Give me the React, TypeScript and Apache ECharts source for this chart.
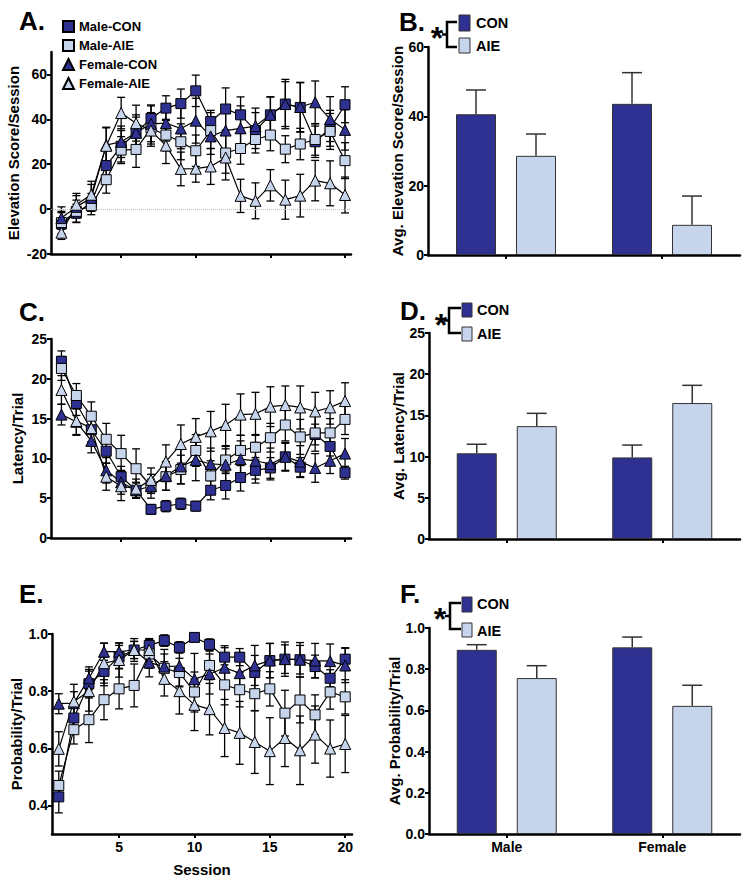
import React, { useEffect, useRef } from "react";
import * as echarts from "echarts";

const FONT = '"Liberation Sans", Arial, Helvetica, sans-serif';
const DARK = "#2e3192";
const LIGHT = "#c6d4ec";

const sessions = [1, 2, 3, 4, 5, 6, 7, 8, 9, 10, 11, 12, 13, 14, 15, 16, 17, 18, 19, 20];
const seriesNames = ["Male-CON", "Male-AIE", "Female-CON", "Female-AIE"];
const groups = ["Male", "Female"];

// Panel A: Elevation score / session
const elevMaleCon = [-6.6, -1.8, 3, 19.4, 28, 34, 40.4, 45, 47, 52.7, 39, 44.6, 42, 35, 42, 46.8, 45.3, 30, 36, 46.5];
const elevMaleConErr = [5, 4, 4, 8, 7, 7, 6, 5.5, 6.5, 7, 5, 9.4, 8, 8, 8, 11, 11, 7, 8, 8];
const elevMaleAie = [-6, -1, 1.5, 13.1, 26.3, 26.6, 36, 33, 30, 26, 35, 25, 27, 31, 33, 26.7, 29, 31, 34.6, 21.6];
const elevMaleAieErr = [5, 5, 4, 6, 6, 8, 7, 7, 8, 7, 8, 9, 7, 6, 7, 6, 7, 7, 8, 8];
const elevFemCon = [-4, 1, 5, 28.5, 30, 34, 38, 38.3, 35.9, 39.4, 32.4, 35, 36, 37, 42, 46.8, 45.5, 47.6, 40.1, 35.3];
const elevFemConErr = [5, 5, 6, 8, 7, 8, 8, 8, 9, 10, 8, 9, 10, 8, 8, 10, 11, 9.5, 10, 9];
const elevFemAie = [-10.5, 2, 6.4, 28.2, 42.8, 38.3, 35, 28.3, 17.9, 18, 19, 23, 5.9, 3.7, 10.6, 4.2, 6, 12.7, 11.5, 6.3];
const elevFemAieErr = [3, 5, 6, 8, 7, 8, 7, 8, 7.5, 6, 8, 10, 7.4, 8, 7, 8.7, 9.5, 9, 10, 8];

// Panel C: Latency / trial
const latMaleCon = [22.2, 16.9, 13.6, 10.9, 7.7, 6.0, 3.6, 4.0, 4.3, 4.0, 6.0, 6.6, 7.6, 8.5, 8.8, 10.2, 8.9, 13.0, 11.5, 8.2];
const latMaleConErr = [1.3, 1.5, 1.5, 1.5, 1.3, 1.0, 0.6, 0.7, 0.7, 0.6, 1.2, 1.7, 1.7, 1.6, 1.3, 1.7, 1.2, 1.3, 1.2, 0.8];
const latMaleAie = [21.3, 17.9, 15.3, 12.4, 10.6, 8.7, 6.5, 7.7, 8.6, 11, 7.8, 9.8, 11, 11.4, 12.6, 14.2, 12.7, 13.2, 13.2, 14.9];
const latMaleAieErr = [1.5, 1.5, 1.8, 2.0, 2.3, 2.5, 1.5, 1.7, 1.8, 2.0, 1.9, 1.7, 1.9, 1.6, 1.8, 2.0, 2.2, 2.3, 1.8, 1.9];
const latFemCon = [15.5, 14.6, 12.2, 8.5, 7, 6, 6.5, 7.8, 9.0, 9.8, 9.3, 9.2, 9.9, 9.7, 9.3, 10.2, 9.6, 8.8, 9.7, 10.6];
const latFemConErr = [1.3, 1.6, 1.5, 1.6, 1.5, 0.9, 0.9, 1.8, 2.2, 2.6, 2.0, 2.0, 2.3, 2.3, 2.0, 1.8, 2.0, 1.8, 1.6, 1.9];
const latFemAie = [18.6, 14.7, 13.8, 7.7, 6.5, 6.2, 7.3, 9.6, 11.8, 12.7, 13.4, 14.2, 15.5, 15.6, 16.5, 16.7, 16.4, 15.9, 16.4, 17.2];
const latFemAieErr = [1.8, 1.8, 1.9, 1.7, 1.8, 1.2, 1.5, 2.1, 2.4, 2.3, 2.5, 2.6, 2.6, 2.7, 2.5, 2.4, 2.7, 2.4, 2.1, 2.3];

// Panel E: Probability / trial
const probMaleCon = [0.43, 0.706, 0.826, 0.869, 0.92, 0.944, 0.96, 0.977, 0.953, 0.988, 0.963, 0.919, 0.919, 0.865, 0.907, 0.912, 0.91, 0.886, 0.845, 0.912];
const probMaleConErr = [0.056, 0.04, 0.05, 0.05, 0.04, 0.03, 0.02, 0.02, 0.02, 0.01, 0.02, 0.04, 0.03, 0.06, 0.06, 0.05, 0.05, 0.04, 0.03, 0.04];
const probMaleAie = [0.47, 0.665, 0.7, 0.77, 0.808, 0.82, 0.93, 0.88, 0.865, 0.797, 0.89, 0.822, 0.805, 0.791, 0.808, 0.723, 0.769, 0.717, 0.797, 0.78];
const probMaleAieErr = [0.05, 0.05, 0.08, 0.07, 0.07, 0.075, 0.05, 0.05, 0.05, 0.07, 0.05, 0.07, 0.06, 0.06, 0.06, 0.08, 0.08, 0.07, 0.06, 0.06];
const probFemCon = [0.756, 0.758, 0.845, 0.938, 0.938, 0.944, 0.9, 0.886, 0.888, 0.842, 0.86, 0.882, 0.863, 0.89, 0.907, 0.912, 0.91, 0.907, 0.905, 0.89];
const probFemConErr = [0.035, 0.04, 0.04, 0.03, 0.03, 0.03, 0.05, 0.06, 0.07, 0.09, 0.07, 0.07, 0.07, 0.07, 0.06, 0.06, 0.06, 0.06, 0.06, 0.06];
const probFemAie = [0.598, 0.764, 0.8, 0.898, 0.909, 0.944, 0.944, 0.843, 0.8, 0.752, 0.737, 0.671, 0.654, 0.622, 0.59, 0.636, 0.593, 0.648, 0.599, 0.615];
const probFemAieErr = [0.06, 0.06, 0.07, 0.07, 0.06, 0.04, 0.04, 0.06, 0.08, 0.09, 0.09, 0.1, 0.11, 0.11, 0.117, 0.1, 0.12, 0.1, 0.1, 0.1];

// Bar panels B, D, F (Male, Female)
const elevBarCon = [40.6, 43.6];
const elevBarConErr = [7.0, 9.0];
const elevBarAie = [28.6, 8.7];
const elevBarAieErr = [6.3, 8.3];
const latBarCon = [10.4, 9.9];
const latBarConErr = [1.1, 1.5];
const latBarAie = [13.7, 16.5];
const latBarAieErr = [1.55, 2.15];
const probBarCon = [0.894, 0.906];
const probBarConErr = [0.025, 0.05];
const probBarAie = [0.757, 0.622];
const probBarAieErr = [0.06, 0.1];

const txt = { color: "#000", fontWeight: "bold" as const, fontFamily: FONT };

function lineErrRender(params: any, api: any) {
  const x = api.value(0);
  const lo = api.coord([x, api.value(1)]);
  const hi = api.coord([x, api.value(2)]);
  const c = 4;
  const st = { stroke: "#000", lineWidth: 1.3 };
  return {
    type: "group",
    children: [
      { type: "line", shape: { x1: lo[0], y1: lo[1], x2: hi[0], y2: hi[1] }, style: st },
      { type: "line", shape: { x1: lo[0] - c, y1: lo[1], x2: lo[0] + c, y2: lo[1] }, style: st },
      { type: "line", shape: { x1: hi[0] - c, y1: hi[1], x2: hi[0] + c, y2: hi[1] }, style: st },
    ],
  };
}

function barErrRender(offset: number) {
  return (params: any, api: any) => {
    const cat = api.value(0);
    const base = api.coord([cat, api.value(1)]);
    const top = api.coord([cat, api.value(2)]);
    const x = base[0] + offset;
    const c = 10;
    const st = { stroke: "#333", lineWidth: 1.5 };
    return {
      type: "group",
      children: [
        { type: "line", shape: { x1: x, y1: base[1], x2: x, y2: top[1] }, style: st },
        { type: "line", shape: { x1: x - c, y1: top[1], x2: x + c, y2: top[1] }, style: st },
      ],
    };
  };
}

function lineSeries(idx: number, name: string, vals: number[], errs: number[], fill: string, tri: boolean) {
  return [
    {
      type: "line",
      name,
      xAxisIndex: idx,
      yAxisIndex: idx,
      data: sessions.map((s, i) => [s, vals[i]]),
      symbol: tri ? "triangle" : "rect",
      symbolSize: tri ? 11 : 10,
      itemStyle: { color: fill, borderColor: "#000", borderWidth: 1 },
      lineStyle: { color: "#000", width: 1.2 },
      z: 4,
    },
    {
      type: "custom",
      name: name + " SEM",
      xAxisIndex: idx,
      yAxisIndex: idx,
      renderItem: lineErrRender,
      encode: { x: 0, y: [1, 2] },
      data: sessions.map((s, i) => [s, vals[i] - errs[i], vals[i] + errs[i]]),
      z: 3,
    },
  ];
}

function barSeries(idx: number, con: number[], conErr: number[], aie: number[], aieErr: number[]) {
  return [
    {
      type: "bar",
      name: "CON",
      xAxisIndex: idx,
      yAxisIndex: idx,
      data: con,
      barWidth: 40,
      barGap: "50%",
      itemStyle: { color: DARK, borderColor: "#333", borderWidth: 1 },
      z: 2,
    },
    {
      type: "bar",
      name: "AIE",
      xAxisIndex: idx,
      yAxisIndex: idx,
      data: aie,
      barWidth: 40,
      barGap: "50%",
      itemStyle: { color: LIGHT, borderColor: "#333", borderWidth: 1 },
      z: 2,
    },
    {
      type: "custom",
      xAxisIndex: idx,
      yAxisIndex: idx,
      renderItem: barErrRender(-30),
      encode: { x: 0, y: [1, 2] },
      data: con.map((v, i) => [i, v, v + conErr[i]]),
      z: 1,
    },
    {
      type: "custom",
      xAxisIndex: idx,
      yAxisIndex: idx,
      renderItem: barErrRender(30),
      encode: { x: 0, y: [1, 2] },
      data: aie.map((v, i) => [i, v, v + aieErr[i]]),
      z: 1,
    },
  ];
}

const axisLine = { show: true, onZero: false, lineStyle: { color: "#000", width: 2.5 } };
const axisTick = { show: true, length: 4, lineStyle: { color: "#000", width: 2 } };
const labelBase = { ...txt, fontSize: 14, margin: 4 };
const nameStyle = { ...txt, fontSize: 15 };

function sessionX(gridIndex: number, showLabels: boolean, min: number, max: number) {
  return {
    type: "value",
    gridIndex,
    min,
    max,
    axisLine,
    axisTick: { ...axisTick, customValues: [5, 10, 15, 20] },
    axisLabel: showLabels ? { ...labelBase, customValues: [5, 10, 15, 20], margin: 6 } : { show: false },
    splitLine: { show: false },
    name: showLabels ? "Session" : "",
    nameLocation: "middle",
    nameGap: 28,
    nameTextStyle: nameStyle,
  };
}

function valueY(gridIndex: number, min: number, max: number, ticks: number[], name: string, gap: number, dec: number) {
  return {
    type: "value",
    gridIndex,
    min,
    max,
    axisLine,
    axisTick: { ...axisTick, customValues: ticks },
    axisLabel: {
      ...labelBase,
      customValues: ticks,
      formatter: (v: number) => v.toFixed(dec),
    },
    splitLine: { show: false },
    name,
    nameLocation: "middle",
    nameGap: gap,
    nameTextStyle: nameStyle,
  };
}

function catX(gridIndex: number, showLabels: boolean) {
  return {
    type: "category",
    gridIndex,
    data: groups,
    axisLine,
    axisTick: { ...axisTick, alignWithLabel: true },
    axisLabel: showLabels ? { ...labelBase, margin: 6 } : { show: false },
  };
}

function barLegend(letter: string, lx: number, ly: number, star: [number, number], bx0: number, bx1: number, by0: number, by1: number, sq: number[], textX: number, ty0: number, ty1: number) {
  const st = { stroke: "#000", lineWidth: 2.5, fill: "none" };
  return [
    { type: "text", x: lx, y: ly, style: { text: letter, ...txt, fill: "#000", fontSize: 26, verticalAlign: "middle", align: "left" } },
    { type: "text", x: star[0], y: star[1], style: { text: "*", ...txt, fill: "#000", fontSize: 32, verticalAlign: "middle", align: "center" } },
    { type: "polyline", shape: { points: [[bx1, by0], [bx0, by0], [bx0, by1], [bx1, by1]] }, style: st },
    { type: "line", shape: { x1: bx0 - 5, y1: (by0 + by1) / 2, x2: bx0, y2: (by0 + by1) / 2 }, style: st },
    { type: "rect", shape: { x: sq[0], y: sq[1], width: sq[2], height: sq[3] }, style: { fill: DARK, stroke: "#333", lineWidth: 1 } },
    { type: "rect", shape: { x: sq[0], y: sq[4], width: sq[2], height: sq[5] }, style: { fill: LIGHT, stroke: "#333", lineWidth: 1 } },
    { type: "text", x: textX, y: ty0, style: { text: "CON", ...txt, fill: "#000", fontSize: 14.5, verticalAlign: "middle" } },
    { type: "text", x: textX, y: ty1, style: { text: "AIE", ...txt, fill: "#000", fontSize: 14.5, verticalAlign: "middle" } },
  ];
}

export default function App() {
  const ref = useRef<HTMLDivElement>(null);
  useEffect(() => {
    if (!ref.current) return;
    const chart = echarts.init(ref.current, undefined, { renderer: "svg" });
    const markZero = {
      silent: true,
      symbol: "none",
      label: { show: false },
      lineStyle: { color: "#bbb", type: "dotted", width: 1 },
      data: [{ yAxis: 0 }],
    };
    const aSeries: any[] = [
      ...lineSeries(0, seriesNames[0], elevMaleCon, elevMaleConErr, DARK, false),
      ...lineSeries(0, seriesNames[1], elevMaleAie, elevMaleAieErr, LIGHT, false),
      ...lineSeries(0, seriesNames[2], elevFemCon, elevFemConErr, DARK, true),
      ...lineSeries(0, seriesNames[3], elevFemAie, elevFemAieErr, LIGHT, true),
    ];
    aSeries[0].markLine = markZero;
    const option: any = {
      animation: false,
      backgroundColor: "#fff",
      grid: [
        { left: 51, top: 52, width: 300, height: 202 },
        { left: 428, top: 47, width: 312, height: 208 },
        { left: 51, top: 339, width: 300, height: 199 },
        { left: 429, top: 333, width: 311, height: 206 },
        { left: 52, top: 634, width: 300, height: 200 },
        { left: 429, top: 628, width: 311, height: 206 },
      ],
      xAxis: [
        sessionX(0, false, 0.3, 20.4),
        catX(1, false),
        sessionX(2, false, 0.3, 20.4),
        catX(3, false),
        sessionX(4, true, 0.55, 20.45),
        catX(5, true),
      ],
      yAxis: [
        valueY(0, -20, 70, [-20, 0, 20, 40, 60], "Elevation Score/Session", 30, 0),
        valueY(1, 0, 60, [0, 20, 40, 60], "Avg. Elevation Score/Session", 22, 0),
        valueY(2, 0, 25, [0, 5, 10, 15, 20, 25], "Latency/Trial", 26, 0),
        valueY(3, 0, 25, [0, 5, 10, 15, 20, 25], "Avg. Latency/Trial", 20, 0),
        valueY(4, 0.3, 1.0, [0.4, 0.6, 0.8, 1.0], "Probability/Trial", 28, 1),
        valueY(5, 0, 1.0, [0, 0.2, 0.4, 0.6, 0.8, 1.0], "Avg. Probability/Trial", 22, 1),
      ],
      legend: {
        orient: "vertical",
        left: 62,
        top: 20,
        itemWidth: 11,
        itemHeight: 11,
        itemGap: 6,
        padding: 0,
        textStyle: { ...txt, fontSize: 13 },
        data: [
          { name: seriesNames[0], icon: "rect" },
          { name: seriesNames[1], icon: "rect" },
          { name: seriesNames[2], icon: "triangle" },
          { name: seriesNames[3], icon: "triangle" },
        ],
      },
      series: [
        ...aSeries,
        ...lineSeries(2, seriesNames[0], latMaleCon, latMaleConErr, DARK, false),
        ...lineSeries(2, seriesNames[1], latMaleAie, latMaleAieErr, LIGHT, false),
        ...lineSeries(2, seriesNames[2], latFemCon, latFemConErr, DARK, true),
        ...lineSeries(2, seriesNames[3], latFemAie, latFemAieErr, LIGHT, true),
        ...lineSeries(4, seriesNames[0], probMaleCon, probMaleConErr, DARK, false),
        ...lineSeries(4, seriesNames[1], probMaleAie, probMaleAieErr, LIGHT, false),
        ...lineSeries(4, seriesNames[2], probFemCon, probFemConErr, DARK, true),
        ...lineSeries(4, seriesNames[3], probFemAie, probFemAieErr, LIGHT, true),
        ...barSeries(1, elevBarCon, elevBarConErr, elevBarAie, elevBarAieErr),
        ...barSeries(3, latBarCon, latBarConErr, latBarAie, latBarAieErr),
        ...barSeries(5, probBarCon, probBarConErr, probBarAie, probBarAieErr),
      ],
      graphic: [
        { type: "text", x: 19, y: 21, style: { text: "A.", ...txt, fill: "#000", fontSize: 26, verticalAlign: "middle" } },
        { type: "text", x: 19, y: 312, style: { text: "C.", ...txt, fill: "#000", fontSize: 26, verticalAlign: "middle" } },
        { type: "text", x: 19, y: 594, style: { text: "E.", ...txt, fill: "#000", fontSize: 26, verticalAlign: "middle" } },
        ...barLegend("B.", 399, 22, [437, 38], 447, 457, 22, 47, [459, 15, 11, 16, 38, 15], 476, 23, 46),
        ...barLegend("D.", 400, 311, [441, 325], 449, 461, 308, 333, [462, 303, 10, 14, 327, 14], 477, 310, 334),
        ...barLegend("F.", 400, 594, [440, 619], 450, 461, 603, 629, [462, 597, 10, 15, 623, 14], 477, 604, 631),
      ],
    };
    chart.setOption(option);
    return () => chart.dispose();
  }, []);
  return <div ref={ref} style={{ position: "fixed", left: 0, top: 0, width: 751, height: 882, background: "#fff" }} />;
}
